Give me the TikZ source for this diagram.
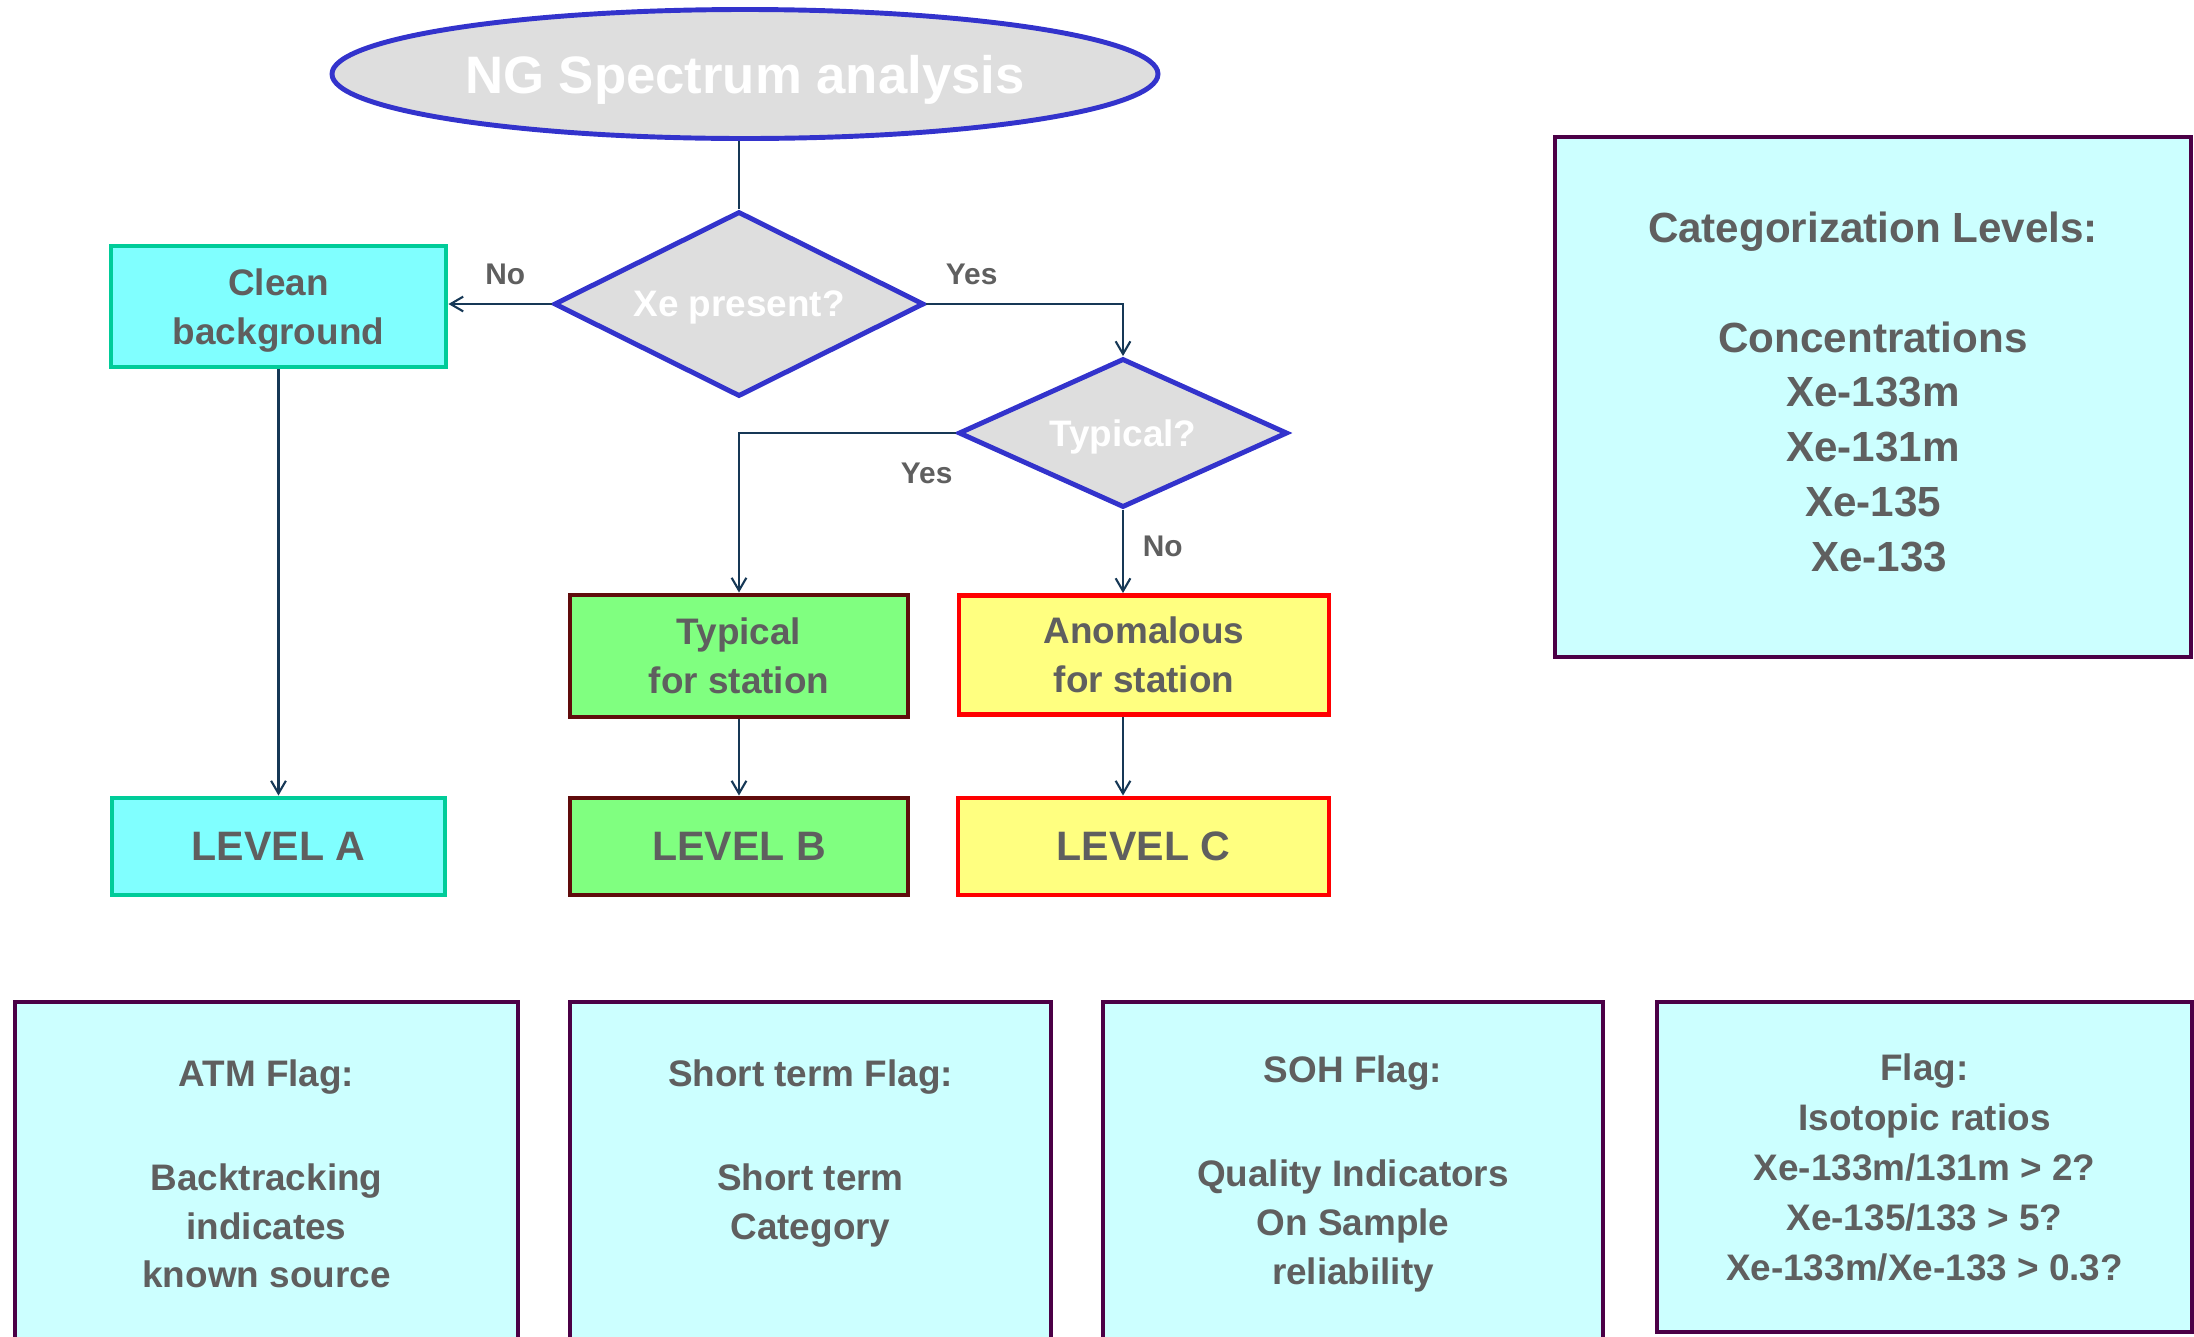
\documentclass[tikz,border=0pt]{standalone}
\usepackage{fontspec}
\setmainfont{Liberation Sans}
\usepackage{xcolor}
\usepackage{tikz}
\usetikzlibrary{arrows.meta,positioning,shapes.geometric}
\definecolor{AzulBorde}{RGB}{51,51,204}
\definecolor{GrisRelleno}{RGB}{222,222,222}
\definecolor{GrisTexto}{RGB}{95,95,95}
\definecolor{AzulLinea}{RGB}{22,56,86}
\definecolor{CianFuerte}{RGB}{128,255,255}
\definecolor{VerdeAgua}{RGB}{0,204,153}
\definecolor{VerdeClaro}{RGB}{128,255,128}
\definecolor{GranateBorde}{RGB}{96,12,12}
\definecolor{AmarilloClaro}{RGB}{255,255,128}
\definecolor{RojoBorde}{RGB}{255,0,0}
\definecolor{CianPalido}{RGB}{204,255,255}
\definecolor{MoradoBorde}{RGB}{75,0,70}

\begin{document}
\begin{tikzpicture}[>={Straight Barb[length=3.6pt,width=4.2pt]},
  start/.style={ellipse,draw=AzulBorde,line width=1.4pt,fill=GrisRelleno,
    text=white,font=\fontsize{15}{18}\selectfont\bfseries,inner sep=0pt,
    minimum width=8.26cm,minimum height=1.29cm,text depth=0pt},
  decision/.style={diamond,draw=AzulBorde,line width=1.4pt,fill=GrisRelleno,
    text=white,font=\fontsize{10.5}{13.9}\selectfont\bfseries,inner sep=0pt,
    text depth=0pt},
  flowbox/.style={rectangle,line width=1.4pt,align=center,inner sep=0pt,
    text=GrisTexto,font=\fontsize{10.5}{13.9}\selectfont\bfseries},
  levelbox/.style={flowbox,font=\fontsize{11.7}{14}\selectfont\bfseries,
    minimum height=0.97cm},
  cianbox/.style={draw=VerdeAgua,fill=CianFuerte},
  verdebox/.style={draw=GranateBorde,fill=VerdeClaro},
  amarillobox/.style={draw=RojoBorde,fill=AmarilloClaro},
  flagbox/.style={flowbox,draw=MoradoBorde,fill=CianPalido,line width=1.2pt},
  link/.style={draw=AzulLinea,line width=0.6pt},
  lbl/.style={text=GrisTexto,font=\fontsize{8.5}{10}\selectfont\bfseries}]
  \useasboundingbox (0,0) rectangle (21.94,-13.36);
  \clip (0,0) rectangle (21.94,-13.36);

  % flowchart
  \node[start] (ell) at (7.45,-0.74) {NG Spectrum analysis};
  \node[decision,shape aspect=2,minimum width=3.70cm,minimum height=1.85cm] (d1) at (7.39,-3.04)
       {Xe present?};
  \node[flowbox,cianbox,minimum width=3.35cm,minimum height=1.21cm,text depth=0pt] (clean)
       at (2.785,-3.065) {Clean\\background};
  \node[decision,shape aspect=2.2,minimum width=3.29cm,minimum height=1.49cm] (d2) at (11.23,-4.33)
       {Typical?};
  \node[flowbox,verdebox,minimum width=3.38cm,minimum height=1.22cm] (typ) at (7.39,-6.56)
       {Typical\\for station};
  \node[flowbox,amarillobox,minimum width=3.70cm,minimum height=1.19cm] (ano) at (11.44,-6.55)
       {Anomalous\\for station};
  \node[levelbox,cianbox,minimum width=3.33cm] (levA) at (2.785,-8.465) {LEVEL A};
  \node[levelbox,verdebox,minimum width=3.38cm] (levB) at (7.39,-8.465) {LEVEL B};
  \node[levelbox,amarillobox,minimum width=3.71cm] (levC) at (11.435,-8.465) {LEVEL C};

  \draw[link] (d1.north) -- (d1.north |- ell.south);
  \draw[link,->] (d1.west) -- (d1.west -| clean.east);
  \node[lbl,above left=2pt and 4pt] (noA) at (d1.west) {No};
  \draw[link,->] (d1.east) -| (d2.north);
  \node[lbl,above right=2pt and 2pt] (yesA) at (d1.east) {Yes};
  \draw[link,->] (d2.west) -| (typ.north);
  \node[lbl,below left=5pt and -2.5pt] (yesB) at (d2.west) {Yes};
  \draw[link,->] (d2.south) -- (d2.south |- ano.north)
       node[lbl,pos=0.44,right=2pt] (noB) {No};
  \draw[link,->] (clean.south) -- (levA.north);
  \draw[link,->] (typ.south) -- (levB.north);
  \draw[link,->] (d2.south |- ano.south) -- (d2.south |- levC.north);

  % info boxes
  \node[flagbox,font=\fontsize{12}{15.6}\selectfont\bfseries,minimum width=6.36cm,minimum height=5.20cm,
       text depth=0.11cm] (cat) at (18.73,-3.97)
       {Categorization Levels:\\[0.55cm]Concentrations\\Xe-133m\\Xe-131m\\Xe-135\\\hspace*{0.12cm}Xe-133};
  \node[flagbox,minimum width=5.03cm,minimum height=3.44cm] (atm) at (2.665,-11.74)
       {ATM Flag:\\[0.55cm]Backtracking\\indicates\\known source};
  \node[flagbox,minimum width=4.81cm,minimum height=3.44cm] (short) at (8.105,-11.74)
       {Short term Flag:\\[0.55cm]Short term\\Category\\\mbox{}};
  \node[flagbox,minimum width=5.00cm,minimum height=3.44cm] (soh) at (13.53,-11.74)
       {SOH Flag:\\[0.55cm]Quality Indicators\\On Sample\\reliability};
  \node[flagbox,font=\fontsize{10.5}{14.2}\selectfont\bfseries,minimum width=5.35cm,minimum height=3.30cm,
       text depth=0pt] (iso) at (19.245,-11.67)
       {Flag:\\Isotopic ratios\\Xe-133m/131m > 2?\\Xe-135/133 > 5?\\Xe-133m/Xe-133 > 0.3?};
\end{tikzpicture}
\end{document}
